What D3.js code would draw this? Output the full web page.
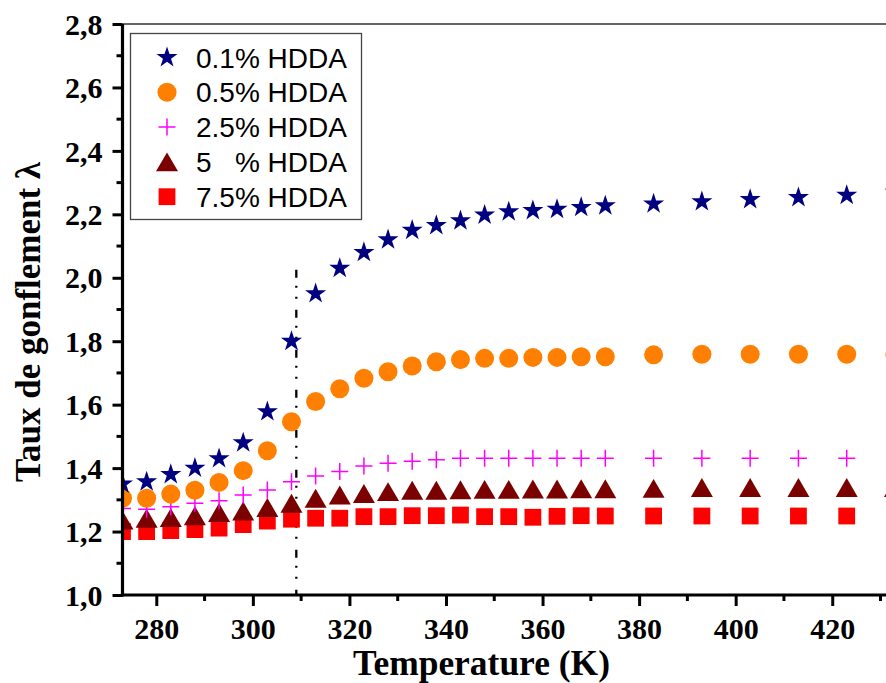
<!DOCTYPE html>
<html>
<head>
<meta charset="utf-8">
<script src="https://cdn.jsdelivr.net/npm/d3@7"></script>
<style>
  html, body { margin: 0; padding: 0; background: #fff; }
  svg { display: block; }
</style>
</head>
<body>
<svg id="chart" width="886" height="683"></svg>
<script>
// ---------------- data ----------------
const temps = [273,278,283,288,293,298,303,308,313,318,323,328,333,338,343,348,353,358,363,368,373,383,393,403,413,423,433];
const s01 = [1.350,1.357,1.380,1.400,1.430,1.480,1.578,1.800,1.950,2.030,2.080,2.120,2.150,2.165,2.180,2.198,2.208,2.212,2.216,2.222,2.227,2.233,2.240,2.247,2.253,2.260,2.270];
const s05 = [1.305,1.305,1.318,1.330,1.355,1.392,1.455,1.546,1.610,1.650,1.683,1.704,1.722,1.735,1.742,1.746,1.746,1.749,1.749,1.751,1.751,1.757,1.759,1.759,1.759,1.759,1.758];
const s25 = [1.273,1.270,1.278,1.289,1.297,1.315,1.331,1.357,1.375,1.389,1.407,1.415,1.422,1.426,1.431,1.431,1.431,1.431,1.431,1.431,1.431,1.431,1.431,1.431,1.431,1.431,1.431];
const s5  = [1.236,1.242,1.244,1.250,1.260,1.265,1.276,1.289,1.305,1.315,1.320,1.326,1.330,1.330,1.332,1.333,1.333,1.334,1.334,1.335,1.335,1.336,1.339,1.339,1.339,1.339,1.339];
const s75 = [1.200,1.200,1.203,1.206,1.211,1.222,1.233,1.239,1.242,1.242,1.247,1.247,1.250,1.250,1.252,1.247,1.247,1.245,1.248,1.250,1.249,1.249,1.249,1.249,1.249,1.249,1.249];
const seriesNames = ["0.1% HDDA","0.5% HDDA","2.5% HDDA","5   % HDDA","7.5% HDDA"];
const xTicks = [280,300,320,340,360,380,400,420];
const xTickLabels = ["280","300","320","340","360","380","400","420"];
const xMinorTicks = [290,310,330,350,370,390,410,430];
const yTicks = [1.0,1.2,1.4,1.6,1.8,2.0,2.2,2.4,2.6,2.8];
const yTickLabels = ["1,0","1,2","1,4","1,6","1,8","2,0","2,2","2,4","2,6","2,8"];
const yMinorTicks = [1.1,1.3,1.5,1.7,1.9,2.1,2.3,2.5,2.7];
const transitionT = 309;       // vertical dash-dot marker position (K)
const transitionTop = 2.025;   // its upper end
const xTitle = "Temperature (K)";
const yTitle = "Taux de gonflement λ";

// ---------------- layout ----------------
const svg = d3.select("#chart");
const L = 122.5, R = 895, T = 24, B = 595;
const x = d3.scaleLinear().domain([273, 433]).range([L, R]);
const y = d3.scaleLinear().domain([1.0, 2.8]).range([B, T]);

// custom symbol types
const symPlus = { draw(ctx, size) { const r = Math.sqrt(size) / 2; ctx.moveTo(-r, 0); ctx.lineTo(r, 0); ctx.moveTo(0, -r); ctx.lineTo(0, r); } };
const symTri = { draw(ctx, size) { const r = Math.sqrt(size) / 2; const h = r * 0.86; ctx.moveTo(0, -h); ctx.lineTo(r, h); ctx.lineTo(-r, h); ctx.closePath(); } };

const styles = [
  { data: s01, type: d3.symbolStar,   size: 138, fill: "#000080", stroke: "none" },
  { data: s05, type: d3.symbolCircle, size: 284, fill: "#FF8000", stroke: "none" },
  { data: s25, type: symPlus,         size: 289, fill: "none",    stroke: "#FF00FF" },
  { data: s5,  type: symTri,          size: 484, fill: "#7B0000", stroke: "none" },
  { data: s75, type: d3.symbolSquare, size: 282, fill: "#FF0000", stroke: "none" }
];

svg.append("rect").attr("width", 886).attr("height", 683).attr("fill", "#fff");

svg.append("defs").append("clipPath").attr("id", "plotclip")
  .append("rect").attr("x", L).attr("y", T).attr("width", 940 - L).attr("height", B - T);

// top frame line
svg.append("line").attr("x1", L).attr("x2", 940).attr("y1", T).attr("y2", T)
  .attr("stroke", "#333").attr("stroke-width", 1.3);

// dash-dot vertical line
svg.append("line")
  .attr("x1", x(transitionT)).attr("x2", x(transitionT))
  .attr("y1", y(transitionTop)).attr("y2", y(1.0))
  .attr("stroke", "#000").attr("stroke-width", 2.3)
  .attr("stroke-dasharray", "8,8,2,9,2,11");

// markers
const plot = svg.append("g").attr("clip-path", "url(#plotclip)");
const order = [4, 3, 2, 1, 0];
order.forEach(i => {
  const st = styles[i];
  plot.append("g").selectAll("path").data(temps.map((t, k) => [t, st.data[k]]))
    .join("path")
    .attr("transform", d => `translate(${x(d[0])},${y(d[1])})`)
    .attr("d", d3.symbol().type(st.type).size(st.size))
    .attr("fill", st.fill)
    .attr("stroke", st.stroke)
    .attr("stroke-width", st.stroke === "none" ? 0 : 1.5);
});

// axes
const serif = "'Liberation Serif','Times New Roman',serif";
const xAxis = svg.append("g").attr("transform", `translate(0,${B})`)
  .call(d3.axisBottom(x).tickValues(xTicks).tickFormat((d, i) => xTickLabels[i]).tickSize(11).tickSizeOuter(0));
xAxis.select(".domain").attr("stroke-width", 3.2).attr("d", `M${L - 1.6},0H${940}`);
xAxis.selectAll(".tick line").attr("stroke-width", 3);
xAxis.selectAll(".tick text").attr("y", 44).attr("dy", 0)
  .attr("font-family", serif).attr("font-weight", "bold").attr("font-size", 30).attr("fill", "#000");
svg.append("g").attr("transform", `translate(0,${B})`)
  .selectAll("line").data(xMinorTicks).join("line")
  .attr("x1", d => x(d)).attr("x2", d => x(d)).attr("y1", 0).attr("y2", 6)
  .attr("stroke", "#000").attr("stroke-width", 3);

const yAxis = svg.append("g").attr("transform", `translate(${L},0)`)
  .call(d3.axisLeft(y).tickValues(yTicks).tickFormat((d, i) => yTickLabels[i]).tickSize(10).tickSizeOuter(0));
yAxis.select(".domain").attr("stroke-width", 3.2).attr("d", `M0,${B + 1.6}V${T}`);
yAxis.selectAll(".tick line").attr("stroke-width", 3);
yAxis.selectAll(".tick text").attr("x", -20).attr("dy", "0.34em")
  .attr("font-family", serif).attr("font-weight", "bold").attr("font-size", 30).attr("fill", "#000");
svg.append("g").attr("transform", `translate(${L},0)`)
  .selectAll("line").data(yMinorTicks).join("line")
  .attr("x1", -6).attr("x2", 0).attr("y1", d => y(d)).attr("y2", d => y(d))
  .attr("stroke", "#000").attr("stroke-width", 3);

// axis titles
svg.append("text").attr("x", 481.5).attr("y", 675).attr("text-anchor", "middle")
  .attr("font-family", serif).attr("font-weight", "bold").attr("font-size", 35)
  .attr("textLength", 257).attr("lengthAdjust", "spacingAndGlyphs")
  .text(xTitle);
svg.append("text").attr("transform", "translate(40,322) rotate(-90)").attr("text-anchor", "middle")
  .attr("font-family", serif).attr("font-weight", "bold").attr("font-size", 36)
  .attr("textLength", 320).attr("lengthAdjust", "spacingAndGlyphs")
  .text(yTitle);

// legend
const lg = svg.append("g");
lg.append("rect").attr("x", 130.5).attr("y", 33.5).attr("width", 231).attr("height", 186)
  .attr("fill", "#fff").attr("stroke", "#444").attr("stroke-width", 1.3);
seriesNames.forEach((name, i) => {
  const st = styles[i];
  const cy = 57.5 + i * 34.8;
  lg.append("path").attr("transform", `translate(167,${cy})`)
    .attr("d", d3.symbol().type(st.type).size(st.size))
    .attr("fill", st.fill).attr("stroke", st.stroke)
    .attr("stroke-width", st.stroke === "none" ? 0 : 1.5);
  lg.append("text").attr("x", 196).attr("y", cy + 10)
    .attr("font-family", "'Liberation Sans',Arial,sans-serif").attr("font-size", 28)
    .style("white-space", "pre").attr("xml:space", "preserve")
    .text(name);
});
</script>
</body>
</html>
